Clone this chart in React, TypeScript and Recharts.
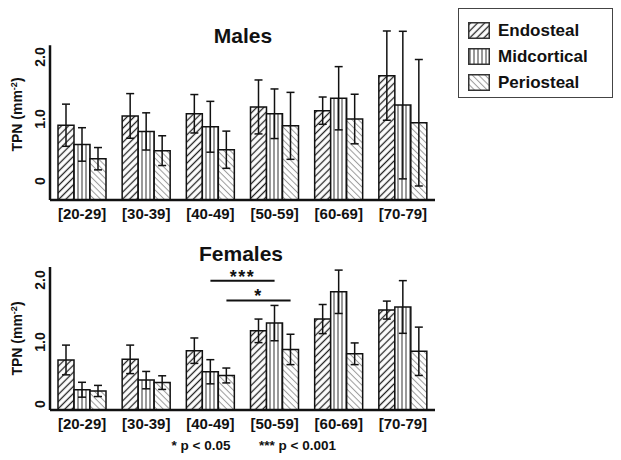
import { BarChart, Bar, XAxis, YAxis, ErrorBar, ReferenceLine, Legend } from 'recharts';

const ageGroups = ['[20-29]', '[30-39]', '[40-49]', '[50-59]', '[60-69]', '[70-79]'];
const seriesNames = ['Endosteal', 'Midcortical', 'Periosteal'];
const yTicks = [0, 1, 2];

// males, TPN (mm^-2) mean and SD per age group
const malesEndo = [0.9, 1.05, 1.085, 1.195, 1.135, 1.7];
const malesMid = [0.59, 0.8, 0.875, 1.085, 1.335, 1.225];
const malesPeri = [0.36, 0.49, 0.505, 0.89, 1.0, 0.94];
const malesEndoErr = [0.34, 0.36, 0.31, 0.435, 0.22, 0.72];
const malesMidErr = [0.27, 0.3, 0.41, 0.4, 0.51, 1.19];
const malesPeriErr = [0.18, 0.24, 0.3, 0.54, 0.4, 1.02];

// females
const femalesEndo = [0.71, 0.72, 0.86, 1.18, 1.37, 1.515];
const femalesMid = [0.23, 0.385, 0.52, 1.305, 1.81, 1.565];
const femalesPeri = [0.21, 0.345, 0.46, 0.88, 0.81, 0.85];
const femalesEndoErr = [0.24, 0.23, 0.205, 0.19, 0.235, 0.145];
const femalesMidErr = [0.12, 0.14, 0.195, 0.285, 0.35, 0.425];
const femalesPeriErr = [0.09, 0.11, 0.12, 0.245, 0.175, 0.39];

// significance brackets (females only)
const femaleSignif = [
  { from: '[40-49]', to: '[50-59]', series: 1, level: 1.99, label: '***' },
  { from: '[40-49]', to: '[50-59]', series: 2, level: 1.67, label: '*' },
];

const font = '"Liberation Sans", Arial, sans-serif';
const ink = '#111';
const fills = ['url(#endoPat)', 'url(#midPat)', 'url(#periPat)'];
const keys = ['endo', 'mid', 'peri'];

const PLOT_LEFT = 50;
const PLOT_RIGHT = 435;
const BAR = 16;
const CHART_W = 621;
const BAND = (PLOT_RIGHT - PLOT_LEFT) / ageGroups.length;

function buildRows(endo, mid, peri, endoErr, midErr, periErr) {
  return ageGroups.map((age, i) => ({
    age,
    endo: endo[i],
    mid: mid[i],
    peri: peri[i],
    endoErr: endoErr[i],
    midErr: midErr[i],
    periErr: periErr[i],
  }));
}

const YTick = ({ x, y, payload }) => {
  const tx = x + 3;
  return (
    <text x={tx} y={y} transform={`rotate(-90 ${tx} ${y})`} textAnchor="middle"
      fontSize={14} fontWeight={700} fill={ink} fontFamily={font}>
      {payload.value === 0 ? '0' : payload.value.toFixed(1)}
    </text>
  );
};

const YLabel = ({ viewBox }) => {
  const cx = viewBox.x + 22;
  const cy = viewBox.y + viewBox.height / 2;
  return (
    <text x={cx} y={cy} transform={`rotate(-90 ${cx} ${cy})`} textAnchor="middle"
      fontSize={14} fontWeight={700} fill={ink} fontFamily={font}>
      TPN (mm<tspan dy={-5} fontSize={9}>-2</tspan><tspan dy={5}>)</tspan>
    </text>
  );
};

const SigLabel = ({ viewBox, text, dx }) => {
  const cx = viewBox.x + viewBox.width / 2 + dx;
  return (
    <text x={cx} y={viewBox.y + 2} textAnchor="middle" fontSize={18} letterSpacing={1.5}
      fontWeight={700} fill={ink} fontFamily={font}>
      {text}
    </text>
  );
};

const LegendBox = ({ payload }) => (
  <div style={{ width: 155, height: 90, boxSizing: 'border-box', border: '1.5px solid #444', padding: '9px 0 0 9px', background: '#fff', fontFamily: font }}>
    {(payload ?? []).map((entry) => (
      <div key={entry.value} style={{ display: 'flex', alignItems: 'center', height: 25.7 }}>
        <svg width={22} height={17} style={{ display: 'block' }}>
          <rect x={0.75} y={0.75} width={20.5} height={15.5} fill={entry.color} stroke="#333" strokeWidth={1.5} />
        </svg>
        <span style={{ marginLeft: 8, fontSize: 17, fontWeight: 700, color: ink, lineHeight: '17px' }}>{entry.value}</span>
      </div>
    ))}
  </div>
);

function Panel({ rows, yMin, yMax, axisTop, height, marginTop, signif, legend }) {
  return (
    <BarChart width={CHART_W} height={height} data={rows} barGap={0}
      margin={{ top: marginTop, right: CHART_W - PLOT_RIGHT, bottom: 0, left: 0 }}
      style={{ fontFamily: font, overflow: 'visible' }}>
      <XAxis dataKey="age" height={30} interval={0} tickLine={false}
        axisLine={{ stroke: ink, strokeWidth: 2.5 }}
        tick={{ fontSize: 15, fontWeight: 700, fill: ink, fontFamily: font }} />
      <YAxis type="number" width={PLOT_LEFT} domain={[yMin, yMax]} ticks={yTicks}
        axisLine={false} tickLine={false} tick={<YTick />} label={<YLabel />} />
      {/* y axis line stops short of the top of the plot; error bars run past it */}
      <ReferenceLine segment={[{ x: ageGroups[0], y: yMin }, { x: ageGroups[0], y: axisTop }]}
        shape={(p) => <line x1={p.x1 - BAND / 2} y1={p.y1} x2={p.x2 - BAND / 2} y2={p.y2} stroke={ink} strokeWidth={2.5} />} />
      {keys.map((k, s) => (
        <Bar key={k} name={seriesNames[s]} dataKey={(d) => [yMin, d[k]]} barSize={BAR}
          fill={fills[s]} stroke={ink} strokeWidth={1.5} isAnimationActive={false}>
          <ErrorBar dataKey={(p) => (p.payload ?? p)[k + 'Err']} width={4} stroke={ink} strokeWidth={1.5} />
        </Bar>
      ))}
      {signif.map((s) => {
        // shift from the group centre to the bar of the compared series
        const dx = (s.series - 1) * BAR;
        return (
          <ReferenceLine key={s.label}
            segment={[{ x: s.from, y: s.level }, { x: s.to, y: s.level }]}
            shape={(p) => <line x1={p.x1 + dx} y1={p.y1} x2={p.x2 + dx} y2={p.y2} stroke={ink} strokeWidth={2} />}
            label={<SigLabel text={s.label} dx={dx} />} />
        );
      })}
      {legend && (
        <Legend layout="vertical" align="center" verticalAlign="middle"
          wrapperStyle={{ left: 458, top: 8, width: 155, height: 90 }} content={<LegendBox />} />
      )}
    </BarChart>
  );
}

export default function App() {
  const males = buildRows(malesEndo, malesMid, malesPeri, malesEndoErr, malesMidErr, malesPeriErr);
  const females = buildRows(femalesEndo, femalesMid, femalesPeri, femalesEndoErr, femalesMidErr, femalesPeriErr);
  return (
    <div style={{ position: 'absolute', left: 0, top: 0, width: 621, height: 460, background: '#fff', overflow: 'hidden' }}>
      <svg width={621} height={460} style={{ position: 'absolute', left: 0, top: 0, pointerEvents: 'none' }}>
        <defs>
          <pattern id="endoPat" patternUnits="userSpaceOnUse" width={5} height={5} patternTransform="rotate(45)">
            <rect width={5} height={5} fill="#fff" />
            <line x1={2.5} y1={0} x2={2.5} y2={5} stroke="#222" strokeWidth={1.3} />
          </pattern>
          <pattern id="midPat" patternUnits="userSpaceOnUse" width={4} height={4}>
            <rect width={4} height={4} fill="#fff" />
            <line x1={2} y1={0} x2={2} y2={4} stroke="#333" strokeWidth={1} />
          </pattern>
          <pattern id="periPat" patternUnits="userSpaceOnUse" width={4.5} height={4.5} patternTransform="rotate(-45)">
            <rect width={4.5} height={4.5} fill="#fff" />
            <line x1={2.25} y1={0} x2={2.25} y2={4.5} stroke="#9a9a9a" strokeWidth={1} />
          </pattern>
        </defs>
        <g fontFamily={font} fontWeight={700} fill={ink}>
          <text x={243} y={42.5} textAnchor="middle" fontSize={21}>Males</text>
          <text x={241} y={261} textAnchor="middle" fontSize={21}>Females</text>
          <text x={171.5} y={450} fontSize={13.5}>* p &lt; 0.05</text>
          <text x={259} y={450} fontSize={13.5}>*** p &lt; 0.001</text>
        </g>
      </svg>
      <div style={{ position: 'absolute', left: 0, top: 0 }}>
        <Panel rows={males} yMin={-0.306} yMax={2.452} axisTop={2.19} height={230} marginTop={29} signif={[]} legend />
      </div>
      <div style={{ position: 'absolute', left: 0, top: 230 }}>
        <Panel rows={females} yMin={-0.097} yMax={2.21} axisTop={2.21} height={210} marginTop={37} signif={femaleSignif} legend={false} />
      </div>
    </div>
  );
}
